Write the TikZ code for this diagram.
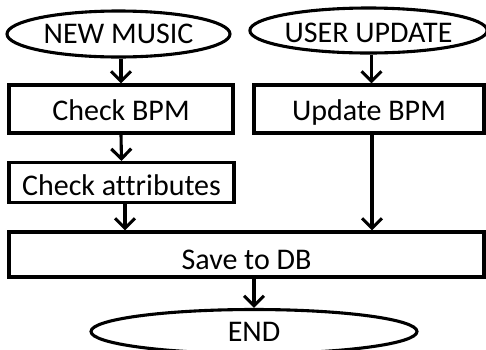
\documentclass[tikz,border=0pt]{standalone}
\usepackage{fontspec}
\setmainfont{Carlito}[Ligatures=NoCommon]
\usetikzlibrary{shapes.geometric,arrows.meta}
\begin{document}
\begin{tikzpicture}[x=1pt,y=-1pt,
  base/.style={draw=black,line width=3.1pt,inner sep=0pt,font=\fontsize{30}{32}\selectfont,text=black,text depth=0pt},
  procbox/.style={base,rectangle},
  termnode/.style={base,ellipse},
  arr/.style={line width=3.1pt,-{Straight Barb[length=10pt,width=20pt,line width=3.1pt]}}]
\useasboundingbox (0,0) rectangle (486,349);
\clip (0,0) rectangle (486,349);
\node[termnode,minimum width=223pt,minimum height=46pt,text height=19.5pt] (nm) at (118.5,34) {NEW MUSIC};
\node[termnode,minimum width=229pt,minimum height=45pt,text height=23.3pt] (uu) at (368.5,30.5) {USER UPDATE};
\node[procbox,minimum width=224pt,minimum height=48pt,text height=23pt] (cb) at (121,109) {Check BPM};
\node[procbox,minimum width=230pt,minimum height=48pt,text height=23pt] (ub) at (369,109) {Update BPM};
\node[procbox,minimum width=225pt,minimum height=40pt,text height=25.3pt] (ca) at (121.5,182.5) {Check attributes};
\node[procbox,minimum width=475pt,minimum height=45pt,text height=29.3pt] (sd) at (246.5,254.5) {Save to DB};
\node[termnode,minimum width=326pt,minimum height=44pt,text height=20.3pt] (en) at (254,331.5) {END};
\draw[arr] (nm.south -| cb.north) -- (cb.north);
\draw[arr] ([xshift=3pt]uu.south) -- ([xshift=3pt]uu.south |- ub.north);
\draw[arr] (cb.south) -- (ca.north);
\draw[arr] ([xshift=3.5pt]ca.south) -- ([xshift=3.5pt]ca.south |- sd.north);
\draw[arr] ([xshift=3pt]ub.south) -- ([xshift=3pt]ub.south |- sd.north);
\draw[arr] (sd.south -| en.north) -- (en.north);
\end{tikzpicture}
\end{document}
